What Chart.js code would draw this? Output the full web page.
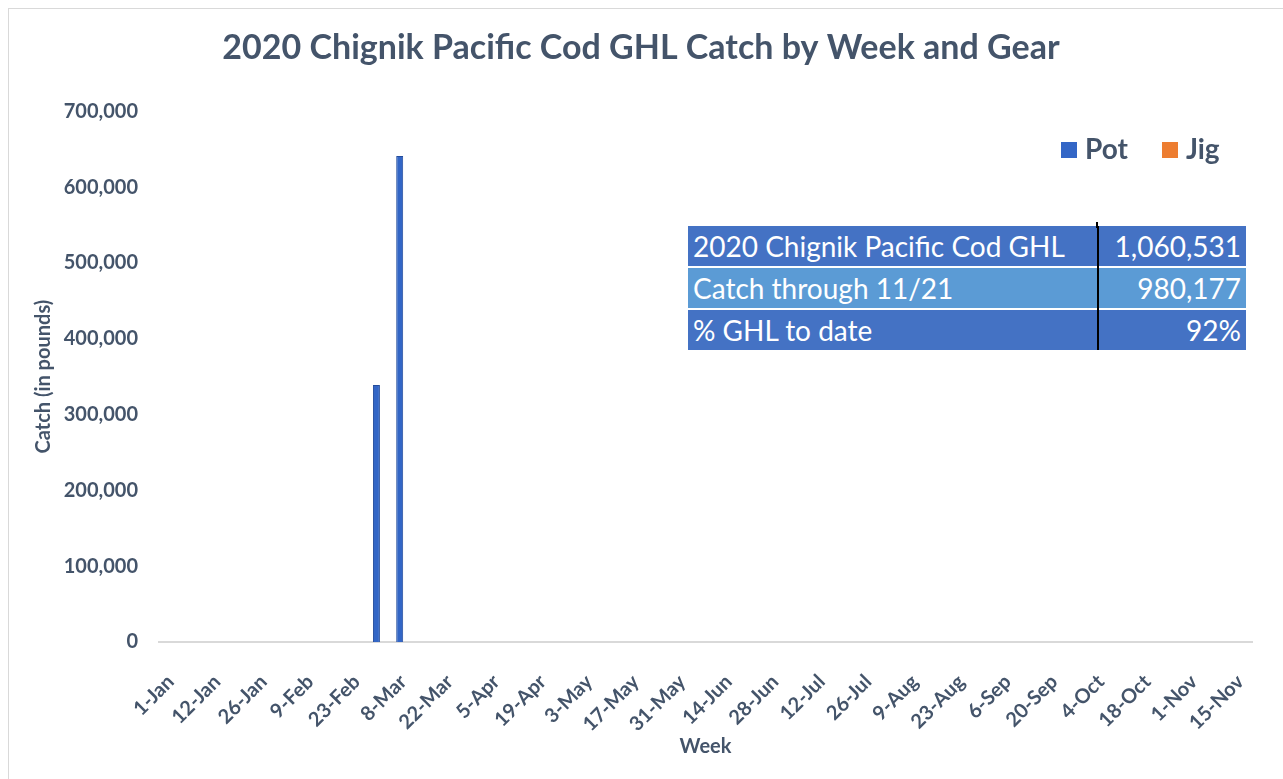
<!DOCTYPE html>
<html>
<head>
<meta charset="utf-8">
<script src="https://cdn.jsdelivr.net/npm/chart.js@4.4.1/dist/chart.umd.min.js"></script>
<style>
  html, body { margin: 0; padding: 0; background: #fff; overflow: hidden; }
  #wrap { position: absolute; left: 0; top: 0; width: 1283px; height: 779px; }
  #frame { position: absolute; left: 8px; top: 8px; width: 1400px; height: 900px; border: 1px solid #d9d9d9; }
  #legend { position: absolute; left: 1061px; top: 131px; font: bold 28px Lato, sans-serif; color: #44546A; white-space: nowrap; }
  #legend span.item { display: inline-block; margin-right: 34px; }
  #legend span.box { display: inline-block; width: 16px; height: 16px; margin-right: 8px; vertical-align: 1px; }
  #ghl { position: absolute; left: 688px; top: 226px; border-collapse: collapse; font: 28px Lato, sans-serif; color: #fff; }
  #ghl td { height: 40px; padding: 0 5px; line-height: 40px; white-space: nowrap; }
  #ghl tr + tr td { border-top: 2px solid #fff; }
  #ghl td.name { width: 399px; }
  #ghl td.val { width: 137px; text-align: right; border-left: 2px solid #000; }
  #vline { position: absolute; left: 1096px; top: 222px; width: 2px; height: 6px; background: #000; }
</style>
</head>
<body>
<div id="frame"></div>
<div id="wrap"><canvas id="myChart"></canvas></div>
<div id="legend"></div>
<table id="ghl"></table>
<div id="vline"></div>
<script>
const weeks = [
  "1-Jan", "5-Jan", "12-Jan", "19-Jan", "26-Jan",
  "2-Feb", "9-Feb", "16-Feb", "23-Feb",
  "1-Mar", "8-Mar", "15-Mar", "22-Mar", "29-Mar",
  "5-Apr", "12-Apr", "19-Apr", "26-Apr",
  "3-May", "10-May", "17-May", "24-May", "31-May",
  "7-Jun", "14-Jun", "21-Jun", "28-Jun",
  "5-Jul", "12-Jul", "19-Jul", "26-Jul",
  "2-Aug", "9-Aug", "16-Aug", "23-Aug", "30-Aug",
  "6-Sep", "13-Sep", "20-Sep", "27-Sep",
  "4-Oct", "11-Oct", "18-Oct", "25-Oct",
  "1-Nov", "8-Nov", "15-Nov"
];

// pounds per week
const potCatch = weeks.map(() => 0);
potCatch[9] = 339000;   // 1-Mar
potCatch[10] = 641000;  // 8-Mar
const jigCatch = weeks.map(() => 0);

const yTicks = [0, 100000, 200000, 300000, 400000, 500000, 600000, 700000];

const tableLabels = ["2020 Chignik Pacific Cod GHL", "Catch through 11/21", "% GHL to date"];
const tableValues = ["1,060,531", "980,177", "92%"];
const tableColors = ["#4472C4", "#5B9BD5", "#4472C4"];

const textColor = '#44546A';
const font = 'Lato, sans-serif';

const canvas = document.getElementById("myChart");
const ctx = canvas.getContext("2d");

const chart = new Chart(ctx, {
  type: "bar",
  data: {
    labels: weeks,
    datasets: [
      {
        label: "Pot",
        data: potCatch,
        backgroundColor: "#3366C6",
        borderColor: "#234C9C",
        borderWidth: 1,
        barPercentage: 1,
        categoryPercentage: 0.6,
      },
      {
        label: "Jig",
        data: jigCatch,
        backgroundColor: "#ED7D31",
        borderColor: "#C55A11",
        borderWidth: 0,
        barPercentage: 1,
        categoryPercentage: 0.6,
      },
    ],
  },
  options: {
    responsive: true,
    maintainAspectRatio: false,
    animation: false,
    layout: { padding: { left: 30, right: 31, top: 0, bottom: 16 } },
    scales: {
      x: {
        grid: { display: false },
        border: { display: true, color: '#D9D9D9', width: 2 },
        afterFit: function (scale) { scale.height = 121; },
        ticks: {
          autoSkip: false,
          maxRotation: 45,
          minRotation: 45,
          padding: 20,
          color: textColor,
          font: { family: font, weight: 'bold', size: 20 },
          callback: function (value, index) {
            return index % 2 === 0 ? this.getLabelForValue(value) : '';
          },
        },
        title: {
          display: true,
          text: 'Week',
          color: textColor,
          font: { family: font, weight: 'bold', size: 20 },
        },
      },
      y: {
        min: 0,
        max: 700000,
        afterFit: function (scale) { scale.width = 129; },
        afterBuildTicks: function (scale) {
          scale.ticks = yTicks.map(v => ({ value: v }));
        },
        grid: { display: false, drawTicks: false },
        border: { display: false },
        ticks: {
          padding: 21,
          color: textColor,
          font: { family: font, weight: 'bold', size: 20 },
          callback: function (value) {
            return Number(value).toLocaleString('en-US');
          },
        },
        title: {
          display: true,
          text: 'Catch (in pounds)',
          color: textColor,
          font: { family: font, weight: 'bold', size: 20 },
          padding: { top: 2, bottom: 4 },
        },
      },
    },
    plugins: {
      legend: { display: false },
      tooltip: { enabled: false },
      title: {
        display: true,
        text: '2020 Chignik Pacific Cod GHL Catch by Week and Gear',
        color: textColor,
        font: { family: font, weight: 'bold', size: 34, lineHeight: 1.125 },
        padding: { top: 29, bottom: 44 },
      },
    },
  },
});

// legend built from the datasets
const legend = document.getElementById('legend');
chart.data.datasets.forEach(ds => {
  const item = document.createElement('span');
  item.className = 'item';
  const box = document.createElement('span');
  box.className = 'box';
  box.style.background = ds.backgroundColor;
  item.appendChild(box);
  item.appendChild(document.createTextNode(ds.label));
  legend.appendChild(item);
});

// GHL summary table
const table = document.getElementById('ghl');
tableLabels.forEach((lab, i) => {
  const tr = document.createElement('tr');
  tr.style.background = tableColors[i];
  const a = document.createElement('td');
  a.className = 'name';
  a.textContent = lab;
  const b = document.createElement('td');
  b.className = 'val';
  b.textContent = tableValues[i];
  tr.appendChild(a);
  tr.appendChild(b);
  table.appendChild(tr);
});
</script>
</body>
</html>
